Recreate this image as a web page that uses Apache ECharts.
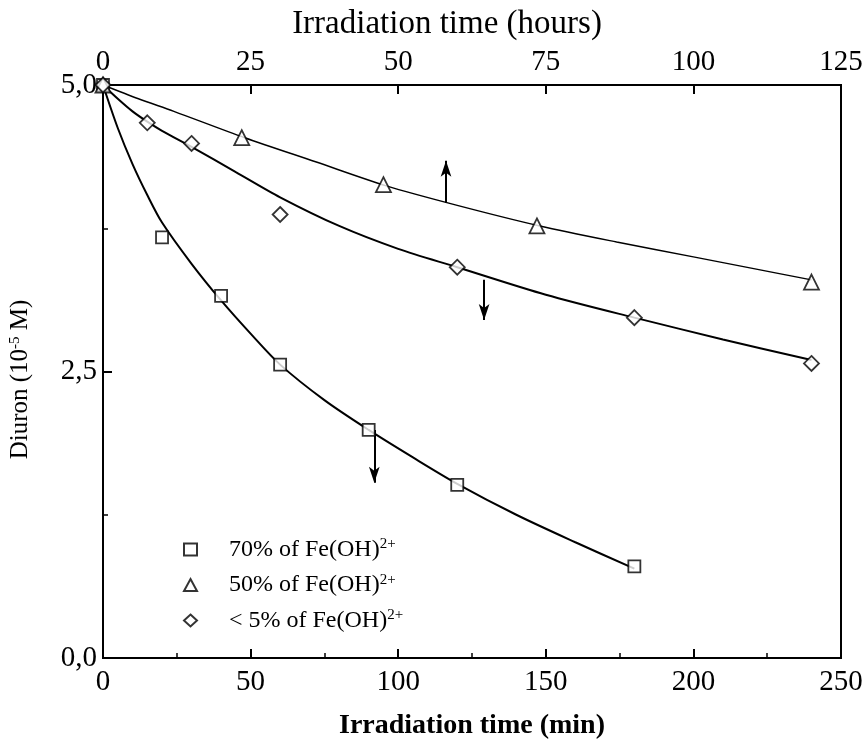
<!DOCTYPE html>
<html><head><meta charset="utf-8">
<script src="https://cdn.jsdelivr.net/npm/echarts@6/dist/echarts.min.js"></script>
<style>html,body{margin:0;padding:0;background:#fff}#c{width:866px;height:745px}</style>
</head><body><div id="c"></div>
<script>
// ---- data ----
var seriesNames = ['70% of Fe(OH)', '50% of Fe(OH)', '< 5% of Fe(OH)'];
// 70%: time (min), Diuron (1e-5 M)
var sqPoints = [[0,5],[20,3.67],[40,3.16],[60,2.56],[90,1.99],[120,1.51],[180,0.8]];
var sqCurve = [[0,5],[5,4.625],[10,4.31],[15,4.04],[20,3.8],[30,3.44],[40,3.12],[50,2.83],[60,2.56],[75,2.25],[90,1.99],[105,1.75],[120,1.52],[140,1.25],[160,1.01],[180,0.78]];
// 50%: time (hours)
var triPoints = [[0,5],[23.5,4.54],[47.5,4.13],[73.5,3.77],[120,3.28]];
var triCurve = [[0,5],[6,4.88],[12,4.77],[24,4.54],[36,4.33],[48,4.12],[60,3.95],[74,3.77],[87,3.63],[100,3.5],[110,3.4],[120,3.3]];
// <5%: time (min)
var diaPoints = [[0,5],[15,4.67],[30,4.49],[60,3.87],[120,3.41],[180,2.97],[240,2.57]];
var diaCurve = [[0,5],[5,4.88],[10,4.77],[15,4.68],[20,4.6],[30,4.46],[45,4.24],[60,4.02],[80,3.77],[100,3.57],[120,3.41],[150,3.17],[180,2.97],[210,2.78],[240,2.6]];
// arrows [x, yFrom, yTo]
var arrowTri = [58.1, 3.97, 4.34];
var arrowDia = [129.1, 3.30, 2.95];
var arrowSq = [91.9, 1.99, 1.53];
var xMinTicks = [0, 250, 50];
var xHourTicks = [0, 125, 25];
var yTicks = [0, 5, 2.5];

var FONT = 'Liberation Serif';
var chart = echarts.init(document.getElementById('c'));
function arrow(a){
  return {silent:true, symbol:['none','arrow'], symbolSize:[8,16], label:{show:false},
    lineStyle:{color:'#000', width:2, type:'solid'},
    data:[[{coord:[a[0],a[1]]},{coord:[a[0],a[2]]}]]};
}
var mk = {color:'#fff', borderColor:'#000', borderWidth:1.8};
var option = {
  animation:false,
  grid:{left:100, right:25, top:85, bottom:87, show:true, borderColor:'#000', borderWidth:2, backgroundColor:'transparent'},
  legend:{
    orient:'vertical', left:178, top:532, itemGap:11, itemWidth:13, itemHeight:12,
    data:[{name:seriesNames[0], icon:'rect'},{name:seriesNames[1], icon:'triangle'},{name:seriesNames[2], icon:'diamond'}],
    formatter:function(n){return '{a|'+n+'}{s|2+}';},
    textStyle:{padding:[0,0,0,27], rich:{a:{fontFamily:FONT,fontSize:24,color:'#000'}, s:{fontFamily:FONT,fontSize:15,color:'#000',verticalAlign:'top',padding:[0,0,10,0]}}}
  },
  xAxis:[{
    type:'value', position:'bottom', min:xMinTicks[0], max:xMinTicks[1], interval:xMinTicks[2],
    name:'Irradiation time (min)', nameLocation:'middle', nameGap:54,
    nameTextStyle:{fontFamily:FONT, fontSize:28, fontWeight:'bold', color:'#000'},
    axisLine:{lineStyle:{color:'#000', width:2}},
    axisTick:{inside:true, length:9, lineStyle:{color:'#000', width:2}},
    minorTick:{show:true, splitNumber:2, length:5, lineStyle:{color:'#000', width:1.5}},
    splitLine:{show:false},
    axisLabel:{fontFamily:FONT, fontSize:29, color:'#000', margin:10}
  },{
    type:'value', position:'top', min:xHourTicks[0], max:xHourTicks[1], interval:xHourTicks[2],
    name:'Irradiation time (hours)', nameLocation:'middle', nameGap:44,
    nameTextStyle:{fontFamily:FONT, fontSize:33, color:'#000', padding:[0,50,0,0]},
    axisLine:{lineStyle:{color:'#000', width:2}},
    axisTick:{inside:true, length:9, lineStyle:{color:'#000', width:2}},
    splitLine:{show:false},
    axisLabel:{fontFamily:FONT, fontSize:29, color:'#000', margin:8}
  }],
  yAxis:[{
    type:'value', min:yTicks[0], max:yTicks[1], interval:yTicks[2],
    name:'{a|Diuron (10}{s|-5}{a| M)}', nameLocation:'middle', nameGap:70,
    nameTextStyle:{padding:[0,16,0,0], rich:{a:{fontFamily:FONT,fontSize:25,color:'#000'}, s:{fontFamily:FONT,fontSize:15,color:'#000',verticalAlign:'top',padding:[0,0,10,0]}}},
    axisLine:{lineStyle:{color:'#000', width:2}},
    axisTick:{inside:true, length:9, lineStyle:{color:'#000', width:2}},
    minorTick:{show:true, splitNumber:2, length:5, lineStyle:{color:'#000', width:1.5}},
    splitLine:{show:false},
    axisLabel:{fontFamily:FONT, fontSize:29, color:'#000', margin:6, formatter:function(v){return v.toFixed(1).replace('.',',');}}
  }],
  series:[
    {type:'line', name:'c1', data:sqCurve, smooth:0.3, showSymbol:false, xAxisIndex:0, lineStyle:{color:'#000', width:2}, z:2, markLine:arrow(arrowSq)},
    {type:'line', name:'c2', data:triCurve, smooth:0.3, showSymbol:false, xAxisIndex:1, lineStyle:{color:'#000', width:1.4}, z:2, markLine:arrow(arrowTri)},
    {type:'line', name:'c3', data:diaCurve, smooth:0.3, showSymbol:false, xAxisIndex:0, lineStyle:{color:'#000', width:2}, z:2, markLine:arrow(arrowDia)},
    {type:'scatter', name:seriesNames[0], data:sqPoints, xAxisIndex:0, symbol:'rect', symbolSize:12, itemStyle:mk, z:5},
    {type:'scatter', name:seriesNames[1], data:triPoints, xAxisIndex:1, symbol:'triangle', symbolSize:15, itemStyle:mk, z:5},
    {type:'scatter', name:seriesNames[2], data:diaPoints, xAxisIndex:0, symbol:'diamond', symbolSize:15, itemStyle:mk, z:5}
  ]
};
chart.setOption(option);
</script></body></html>
